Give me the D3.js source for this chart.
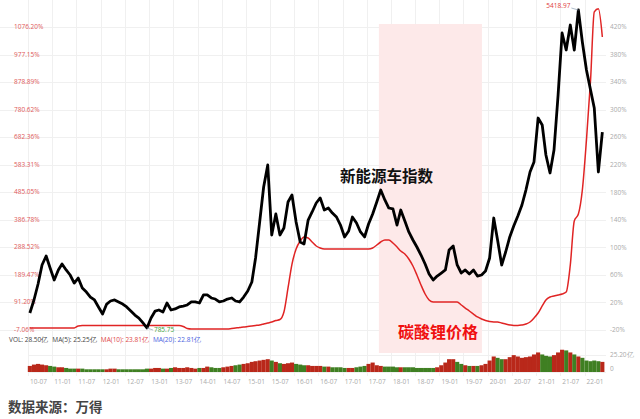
<!DOCTYPE html>
<html>
<head>
<meta charset="utf-8">
<script src="https://cdn.jsdelivr.net/npm/d3@7/dist/d3.min.js"></script>
<style>
body { margin: 0; background: #fff; }
svg { display: block; font-family: "Open Sans", "Noto Sans", sans-serif; }
</style>
</head>
<body>
<svg id="chart" width="640" height="419"></svg>
<script>
// monthly series, first month 2010-07
var startMonth = "2010-07";

// 新能源车指数 (index points)
var indexValues = [
    1004, 1194, 1427, 1704, 1835, 1660, 1485, 1631, 1718, 1631,
    1558, 1441, 1514, 1369, 1310, 1237, 1194, 1092, 990, 1135,
    1179, 1194, 1165, 1135, 1092, 1033, 975, 931, 859, 785.75,
    931, 1033, 1048, 1019, 1150, 1048, 1063, 1092, 1106, 1121,
    1165, 1165, 1150, 1267, 1267, 1223, 1208, 1165, 1179, 1208,
    1223, 1179, 1165, 1237, 1325, 1456, 1806, 2330, 2840, 3161,
    2141, 2447, 2141, 2243, 2622, 2724, 2330, 2039, 2010, 2359,
    2476, 2607, 2680, 2505, 2534, 2461, 2403, 2286, 2112, 2199,
    2403, 2316, 2185, 2112, 2301, 2447, 2622, 2796, 2651, 2534,
    2520, 2286, 2505, 2345, 2185, 2068, 1966, 1849, 1718, 1573,
    1485, 1543, 1587, 1631, 1922, 1980, 1704, 1587, 1631, 1573,
    1631, 1543, 1558, 1616, 1806, 2388, 2068, 1704, 1893, 2112,
    2272, 2418, 2578, 2796, 3059, 3205, 3845, 3744, 3306, 3044,
    3379, 4181, 5084, 4836, 5200, 4836, 5418.97, 4953, 4545, 4253,
    3991, 3059, 3641
];

// 碳酸锂价格 (% , right axis)
var lithiumValues = [
    -17.1, -17.1, -17.1, -17.1, -17.1, -17.1, -17.1, -17.1, -17.1, -17.1,
    -17.1, -17.1, -14.2, -13.5, -13.5, -13.5, -13.5, -13.5, -13.5, -13.5,
    -13.5, -13.5, -13.5, -13.5, -13.5, -13.5, -13.5, -13.5, -13.5, -13.5,
    -13.5, -13.5, -13.5, -13.5, -13.5, -13.5, -13.5, -13.5, -14.9, -17.8,
    -18.5, -18.5, -18.5, -18.5, -18.5, -18.5, -18.5, -18.5, -18.5, -18.5,
    -17.8, -17.1, -16.4, -15.6, -14.9, -14.2, -13.5, -12.7, -11.3, -9.8,
    -8.4, -6.2, -4.8, 6.1, 41.0, 75.8, 97.6, 109.2, 115.0, 113.6,
    107.8, 102.0, 99.1, 97.6, 97.6, 97.6, 97.6, 97.6, 97.6, 97.6,
    97.6, 97.6, 97.6, 97.6, 97.6, 99.1, 103.4, 107.8, 110.7, 110.7,
    106.3, 100.5, 94.7, 90.4, 83.1, 72.9, 59.9, 45.3, 32.3, 23.6,
    20.7, 20.7, 20.7, 20.7, 20.7, 20.7, 20.7, 16.3, 11.9, 7.6,
    3.2, -1.1, -4.0, -6.2, -7.7, -8.4, -8.4, -9.8, -11.3, -12.7,
    -13.5, -13.5, -12.7, -11.3, -8.4, -2.6, 4.7, 14.9, 23.6, 27.9,
    29.4, 30.8, 32.3, 35.2, 74.4, 138.3, 148.4, 183.3, 255.9, 343.0,
    442.0, 446.5, 405.5
];

// 成交量 (亿)
var volumeValues = [
    9, 11, 12, 11, 10, 9,
    8, 7, 7, 6, 5, 5, 5, 5, 4, 4, 4, 4,
    4, 4, 5, 5, 4, 4, 4, 4, 4, 4, 4, 5,
    5, 6, 6, 5, 5, 6, 7, 6, 6, 7, 6, 5,
    6, 6, 8, 7, 6, 6, 7, 8, 9, 10, 11, 12,
    13, 15, 16, 17, 18, 19, 17, 15, 13, 12, 13, 14,
    12, 11, 10, 10, 9, 9, 9, 8, 8, 7, 7, 7,
    6, 6, 6, 7, 8, 9, 12, 14, 10, 9, 8, 8,
    8, 7, 7, 7, 7, 7, 6, 6, 6, 6, 6, 7,
    10, 14, 19, 19, 15, 12, 10, 9, 9, 9, 10, 12,
    17, 23, 21, 19, 19, 22, 25, 23, 21, 22, 23, 26,
    29, 26, 24, 23, 25, 29, 33, 32, 29, 26, 23, 21,
    17, 16, 17, 16, 15
];

var leftTicks = [-7.06, 91.20, 189.47, 288.52, 386.78, 485.05, 583.31, 682.36, 780.62, 878.89, 977.15, 1076.20];
var rightTicks = [-20, 20, 60, 100, 140, 180, 220, 260, 300, 340, 380, 420];
var volTicks = [0, 25.20];
var xTickLabels = ["10-07", "11-01", "11-07", "12-01", "12-07", "13-01", "13-07", "14-01", "14-07", "15-01",
    "15-07", "16-01", "16-07", "17-01", "17-07", "18-01", "18-07", "19-01", "19-07", "20-01",
    "20-07", "21-01", "21-07", "22-01"];
var shadePeriod = ["2017-10-01", "2019-11-18"];
var legendItems = [
    { text: "VOL: 28.50亿", color: "#444" },
    { text: "MA(5): 25.25亿", color: "#444" },
    { text: "MA(10): 23.81亿", color: "#e04848" },
    { text: "MA(20): 22.81亿", color: "#4a63e0" }
];

var parseMonth = d3.timeParse("%Y-%m");
var parseTick = d3.timeParse("%y-%m");
var parseDay = d3.timeParse("%Y-%m-%d");

var first = parseMonth(startMonth);
var months = indexValues.map(function (v, i) {
    return d3.timeDay.offset(d3.timeMonth.offset(first, i), 14);
});

var svg = d3.select("#chart");

var x = d3.scaleTime()
    .domain([parseTick("10-07"), parseTick("22-01")])
    .range([28, 584.6]);
var yIndex = d3.scaleLinear().domain([785.75, 5418.97]).range([328, 10]);
var yLeft = d3.scaleLinear().domain([-7.06, 1076.20]).range([329.5, 27]);
var yRight = d3.scaleLinear().domain([-20, 420]).range([330, 27]);
var yVol = d3.scaleLinear().domain([0, 25.20]).range([372, 355]);

// grid
var grid = svg.append("g").attr("stroke", "#f0f0f0").attr("stroke-width", 1);
grid.selectAll(".hg").data(leftTicks).enter().append("line")
    .attr("x1", 0).attr("x2", 606)
    .attr("y1", function (d) { return Math.round(yLeft(d)) + 0.5; })
    .attr("y2", function (d) { return Math.round(yLeft(d)) + 0.5; });
grid.selectAll(".vg").data(xTickLabels).enter().append("line")
    .attr("x1", function (d) { return Math.round(x(parseTick(d))) + 0.5; })
    .attr("x2", function (d) { return Math.round(x(parseTick(d))) + 0.5; })
    .attr("y1", 0).attr("y2", 376);
grid.selectAll(".volg").data(volTicks).enter().append("line")
    .attr("x1", 28).attr("x2", 606)
    .attr("y1", function (d) { return Math.round(yVol(d)) + 0.5; })
    .attr("y2", function (d) { return Math.round(yVol(d)) + 0.5; });

// shaded period
svg.append("rect")
    .attr("x", x(parseDay(shadePeriod[0])))
    .attr("width", x(parseDay(shadePeriod[1])) - x(parseDay(shadePeriod[0])))
    .attr("y", 24)
    .attr("height", 329)
    .attr("fill", "#fde9e9");

// volume bars
var barW = x(months[1]) - x(months[0]);
svg.append("g").selectAll("rect").data(volumeValues).enter().append("rect")
    .attr("x", function (d, i) { return x(months[i]) - barW / 2; })
    .attr("width", barW)
    .attr("y", function (d) { return yVol(d); })
    .attr("height", function (d) { return yVol(0) - yVol(d); })
    .attr("fill", function (d, i) {
        return (i == 0 || indexValues[i] >= indexValues[i - 1]) ? "#b9281a" : "#3f7f22";
    });

// left labels
svg.append("g").selectAll("text").data(leftTicks).enter().append("text")
    .attr("x", 14)
    .attr("y", function (d) { return yLeft(d); })
    .attr("dy", "0.35em")
    .attr("font-size", 6.5)
    .attr("fill", "#e05a5a")
    .text(function (d) { return d.toFixed(2) + "%"; });

// right labels
svg.append("g").selectAll("text").data(rightTicks).enter().append("text")
    .attr("x", 610)
    .attr("y", function (d) { return yRight(d); })
    .attr("dy", "0.35em")
    .attr("font-size", 6.5)
    .attr("fill", "#aaa")
    .text(function (d) { return d + "%"; });

svg.append("g").selectAll("text").data(volTicks).enter().append("text")
    .attr("x", 610)
    .attr("y", function (d) { return yVol(d) - (d == 0 ? 3 : 0); })
    .attr("dy", "0.35em")
    .attr("font-size", 6.5)
    .attr("fill", "#aaa")
    .text(function (d) { return d == 0 ? "0" : d.toFixed(2) + "亿"; });

// x labels
svg.append("g").selectAll("text").data(xTickLabels).enter().append("text")
    .attr("x", function (d) { return x(parseTick(d)) + 2; })
    .attr("y", 384)
    .attr("font-size", 6.5)
    .attr("fill", "#aaa")
    .text(function (d) { return d; });

// lithium line
var lithiumLine = d3.line()
    .x(function (d, i) { return x(months[i]); })
    .y(function (d) { return yRight(d); })
    .curve(d3.curveMonotoneX);
svg.append("path")
    .datum(lithiumValues)
    .attr("d", lithiumLine)
    .attr("fill", "none")
    .attr("stroke", "#e02424")
    .attr("stroke-width", 1.5);

// index line
var indexLine = d3.line()
    .x(function (d, i) { return x(months[i]); })
    .y(function (d) { return yIndex(d); });
svg.append("path")
    .datum(indexValues)
    .attr("d", indexLine)
    .attr("fill", "none")
    .attr("stroke", "#000")
    .attr("stroke-width", 2.8)
    .attr("stroke-linejoin", "round");

// max / min labels
var maxI = d3.maxIndex(indexValues), minI = d3.minIndex(indexValues);
svg.append("line")
    .attr("x1", x(months[maxI]) - 7).attr("x2", x(months[maxI]))
    .attr("y1", yIndex(indexValues[maxI]) - 2).attr("y2", yIndex(indexValues[maxI]))
    .attr("stroke", "#9ab").attr("stroke-width", 0.8);
svg.append("text")
    .attr("x", x(months[maxI]) - 8)
    .attr("y", yIndex(indexValues[maxI]) - 2)
    .attr("text-anchor", "end")
    .attr("font-size", 6.5)
    .attr("fill", "#e03a3a")
    .text(indexValues[maxI].toFixed(2));
svg.append("line")
    .attr("x1", x(months[minI])).attr("x2", x(months[minI]) + 6)
    .attr("y1", yIndex(indexValues[minI])).attr("y2", yIndex(indexValues[minI]) + 2)
    .attr("stroke", "#9ab").attr("stroke-width", 0.8);
svg.append("text")
    .attr("x", x(months[minI]) + 7)
    .attr("y", yIndex(indexValues[minI]) + 2)
    .attr("dy", "0.35em")
    .attr("font-size", 6.5)
    .attr("fill", "#3aa23a")
    .text(indexValues[minI].toFixed(2));

// volume legend
var lx = 9;
legendItems.forEach(function (item) {
    var t = svg.append("text")
        .attr("x", lx)
        .attr("y", 342)
        .attr("font-size", 6.5)
        .attr("fill", item.color)
        .text(item.text);
    lx += t.node().getComputedTextLength() + 4;
});

// annotations
svg.append("text")
    .attr("x", 340).attr("y", 182)
    .attr("font-family", "'Noto Sans CJK SC', sans-serif")
    .attr("font-size", 15.5)
    .attr("font-weight", "bold")
    .attr("fill", "#111")
    .text("新能源车指数");
svg.append("text")
    .attr("x", 398).attr("y", 338)
    .attr("font-family", "'Noto Sans CJK SC', sans-serif")
    .attr("font-size", 16)
    .attr("font-weight", "bold")
    .attr("fill", "#f01010")
    .text("碳酸锂价格");
svg.append("text")
    .attr("x", 8).attr("y", 412)
    .attr("font-family", "'Noto Sans CJK SC', sans-serif")
    .attr("font-size", 13.5)
    .attr("font-weight", "bold")
    .attr("fill", "#444")
    .text("数据来源：万得");
</script>
</body>
</html>
